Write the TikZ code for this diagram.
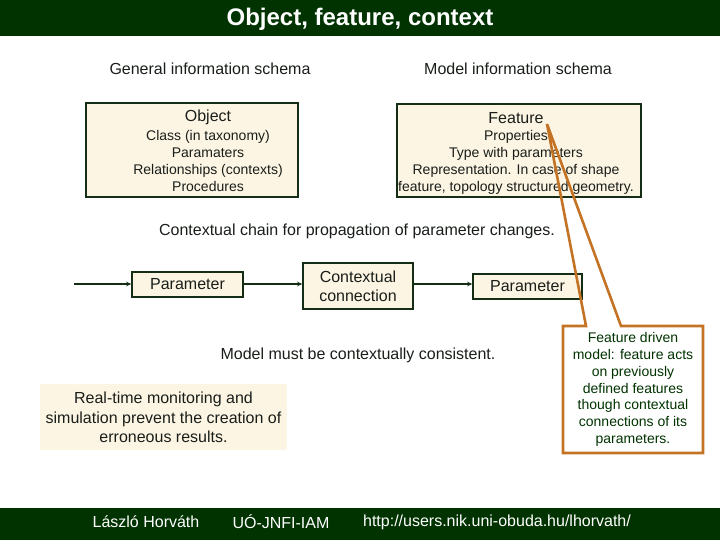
\documentclass[tikz,border=0pt]{standalone}
\usepackage{fontspec}
\setmainfont{Liberation Sans}
\usetikzlibrary{arrows.meta}
\definecolor{bar}{RGB}{0,51,0}
\definecolor{cream}{RGB}{253,245,228}
\definecolor{brd}{RGB}{20,45,20}
\definecolor{callc}{RGB}{195,115,35}
\definecolor{txt}{RGB}{25,30,25}
\tikzset{
  box/.style={draw=brd, line width=1.6pt, fill=cream, inner sep=0pt},
  chainbox/.style={box, text=txt, align=center, font=\fontsize{16}{19}\selectfont},
  head/.style={text=txt, font=\fontsize{16}{19}\selectfont},
  small/.style={text=txt, font=\fontsize{14}{17}\selectfont, align=center},
  conn/.style={draw=brd, line width=1.3pt, -{Stealth[length=5pt,width=4.5pt]}},
  foot/.style={text=white, font=\fontsize{16}{19}\selectfont},
}
\begin{document}
\begin{tikzpicture}[x=1pt,y=-1pt]
\useasboundingbox (0,0) rectangle (720,540);
% title bar
\fill[bar] (0,0) rectangle (720,36);
\node[text=white, font=\fontsize{24}{28}\selectfont\bfseries] (title) at (360,19) {Object, feature, context};
% headings
\node[head] (gis) at (210,69) {General information schema};
\node[head] (mis) at (518,69) {Model information schema};
% object box
\node[box, minimum width=212pt, minimum height=94pt] (obj) at (192,150) {};
\node[head] (objt) at (208,117) {Object};
\node[small] (objl) at (208,161) {Class (in taxonomy)\\Paramaters\\Relationships (contexts)\\Procedures};
% feature box
\node[box, minimum width=244pt, minimum height=93pt] (feat) at (519,150.5) {};
\node[head] (featt) at (516,118) {Feature};
\node[small] (featl) at (516,162) {Properties\\Type with parameters\\Representation. In case of shape\\feature, topology structured geometry.};
% chain
\node[head] (chain) at (357,231) {Contextual chain for propagation of parameter changes.};
\coordinate (start) at (74,284);
\node[chainbox, minimum width=111pt, minimum height=25pt] (p1) at (187.5,284.5) {Parameter};
\node[chainbox, minimum width=110pt, minimum height=46pt] (cc) at (358,286) {Contextual\\connection};
\node[chainbox, minimum width=109pt, minimum height=25pt] (p2) at (527.5,286.5) {Parameter};
\draw[conn] (start) -- (start -| p1.west);
\draw[conn] (p1.east |- 0,284) -- (cc.west |- 0,284);
\draw[conn] (cc.east |- 0,284) -- (p2.west |- 0,284);
% consistency
\node[head] (cons) at (358,355) {Model must be contextually consistent.};
% real-time box
\node[fill=cream, minimum width=247pt, minimum height=66pt, inner sep=0pt] (rt) at (163.5,417) {};
\node[text=txt, align=center, font=\fontsize{16}{19.5}\selectfont] (rtt) at (163.5,417.5) {Real-time monitoring and\\simulation prevent the creation of\\erroneous results.};
% callout
\fill[white] (563,326) rectangle (703,453);
\coordinate (tip) at (547,124);
\draw[callc, line width=2.6pt, line join=miter] (586,326) -- (tip) -- (621,326) -- (703,326) -- (703,453) -- (563,453) -- (563,326) -- cycle;
\node[text=bar, align=center, font=\fontsize{14}{16.8}\selectfont] (callt) at (633,389.5) {Feature driven\\model: feature acts\\on previously\\defined features\\though contextual\\connections of its\\parameters.};
% footer
\fill[bar] (0,508) rectangle (720,540);
\node[foot] (f1) at (146,522) {László Horváth};
\node[foot] (f2) at (281,522) {UÓ-JNFI-IAM};
\node[foot] (f3) at (497,522) {http://users.nik.uni-obuda.hu/lhorvath/};
\end{tikzpicture}
\end{document}
